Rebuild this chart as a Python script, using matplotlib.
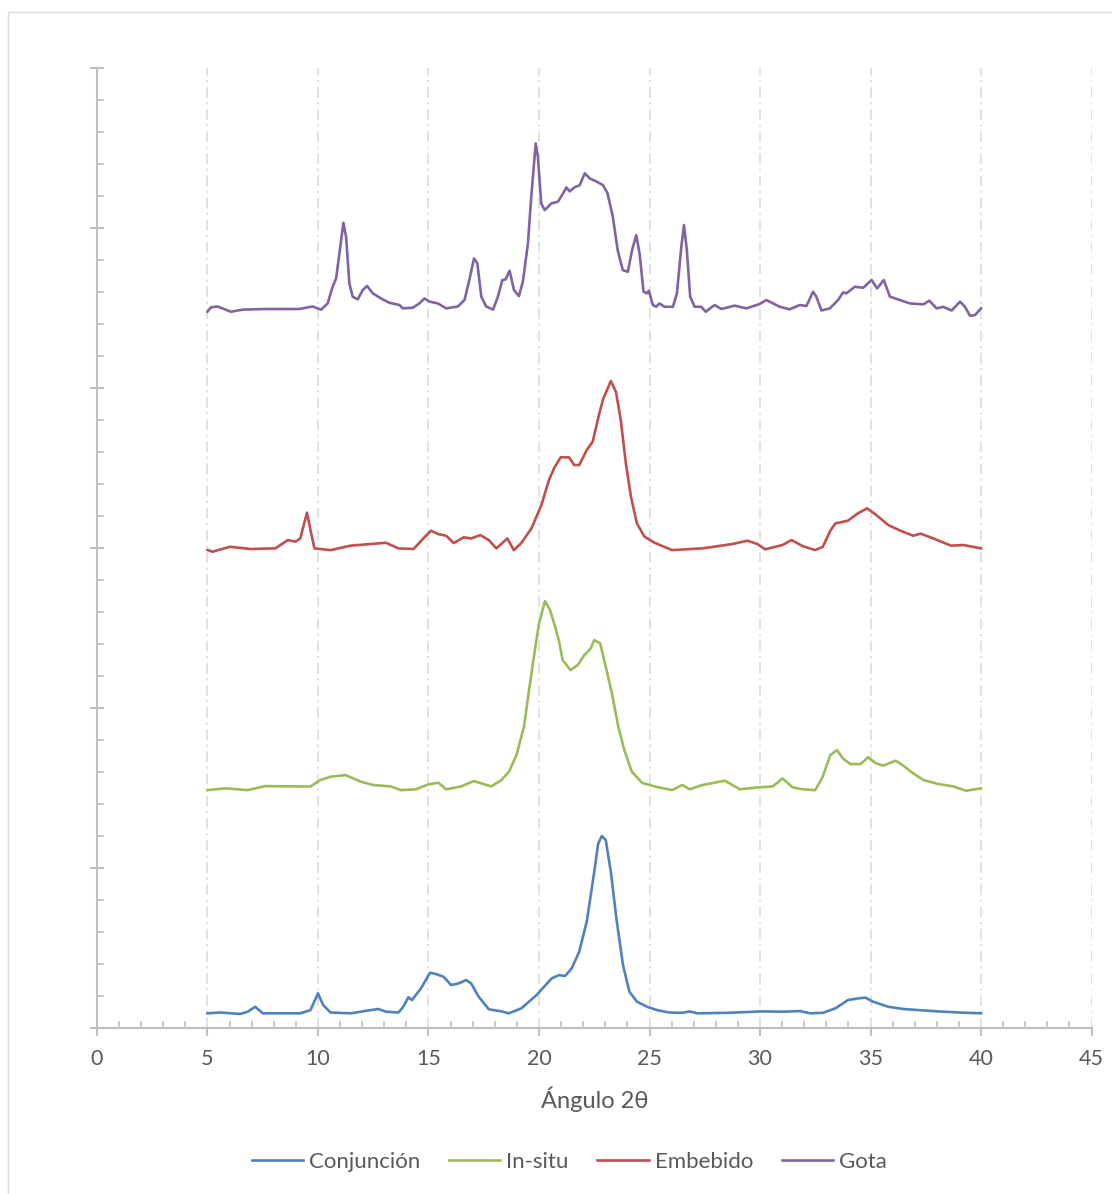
"""
XRD patterns for four preparation methods, stacked with vertical offsets
Output: out.png
"""

import matplotlib
matplotlib.use("Agg")
import matplotlib.pyplot as plt
from matplotlib.patches import Rectangle
from matplotlib.ticker import MultipleLocator, NullFormatter

plt.rcParams["font.family"] = ["Lato", "DejaVu Sans"]

# ── Data (2θ, intensity with offset already applied) ─────────────
conj_x = [5.0, 5.57, 6.48, 6.82, 7.16, 7.5, 9.2, 9.66, 10.0, 10.23, 10.57, 11.48,
          12.39, 12.73, 13.07, 13.64, 13.86, 14.09, 14.25, 14.66, 15.07, 15.34,
          15.68, 16.02, 16.36, 16.7, 16.93, 17.27, 17.73, 18.3, 18.64, 19.2,
          19.89, 20.57, 20.91, 21.18, 21.48, 21.82, 22.16, 22.5, 22.68, 22.84,
          23.02, 23.25, 23.52, 23.8, 24.09, 24.43, 24.89, 25.34, 25.9, 26.48,
          26.82, 27.16, 28.52, 30.11, 31.02, 31.82, 32.27, 32.84, 33.41, 33.98,
          34.43, 34.77, 35.11, 35.8, 36.48, 37.39, 38.3, 39.2, 40.0]
conj_y = [92, 97, 88, 102, 133, 92, 92, 112, 217, 144, 97, 92,
          112, 119, 102, 97, 133, 192, 175, 248, 346, 337,
          321, 269, 279, 300, 279, 196, 117, 104, 92, 123,
          206, 310, 331, 325, 373, 477, 665, 977, 1154, 1200,
          1175, 977, 665, 394, 227, 165, 133, 112, 97, 95,
          104, 92, 95, 104, 102, 106, 92, 95, 123, 175,
          185, 190, 165, 133, 119, 110, 102, 96, 92]

insitu_x = [5.0, 5.8, 6.82, 7.61, 9.2, 9.66, 10.11, 10.57, 11.25, 11.93, 12.5,
            13.3, 13.75, 14.43, 15.0, 15.45, 15.8, 16.48, 17.05, 17.84, 18.3,
            18.64, 18.98, 19.32, 19.55, 19.77, 20.0, 20.27, 20.5, 20.73, 20.91,
            21.07, 21.43, 21.75, 22.05, 22.34, 22.5, 22.77, 23.02, 23.3, 23.59,
            23.86, 24.2, 24.66, 25.23, 26.02, 26.48, 26.82, 27.39, 28.41, 29.09,
            29.89, 30.57, 31.02, 31.48, 31.93, 32.5, 32.84, 33.18, 33.48, 33.75,
            34.09, 34.55, 34.89, 35.23, 35.57, 36.14, 36.48, 36.93, 37.39, 38.07,
            38.75, 39.32, 40.0]
insitu_y = [1487, 1498, 1487, 1512, 1510, 1510, 1550, 1571, 1581, 1540, 1519,
            1510, 1487, 1492, 1523, 1533, 1492, 1510, 1544, 1510, 1550,
            1602, 1706, 1883, 2112, 2321, 2529, 2669, 2612, 2508, 2415,
            2300, 2237, 2269, 2331, 2373, 2425, 2404, 2258, 2092, 1883,
            1737, 1602, 1533, 1510, 1487, 1519, 1492, 1519, 1546, 1492,
            1504, 1510, 1560, 1504, 1492, 1487, 1571, 1706, 1737, 1685,
            1650, 1650, 1692, 1656, 1640, 1671, 1640, 1592, 1550, 1525,
            1510, 1483, 1498]

embeb_x = [5.0, 5.23, 6.02, 6.93, 8.07, 8.64, 8.98, 9.2, 9.5, 9.66, 9.84,
           10.57, 11.48, 13.07, 13.64, 14.32, 14.77, 15.11, 15.45, 15.8, 16.14,
           16.59, 16.93, 17.34, 17.73, 18.07, 18.57, 18.86, 19.2, 19.66, 20.11,
           20.45, 20.68, 20.98, 21.36, 21.59, 21.82, 22.16, 22.43, 22.73, 22.91,
           23.11, 23.25, 23.48, 23.7, 23.93, 24.16, 24.43, 24.77, 25.23, 26.02,
           27.39, 28.75, 29.43, 29.89, 30.23, 31.02, 31.43, 31.93, 32.5, 32.84,
           33.18, 33.41, 33.98, 34.43, 34.84, 35.23, 35.8, 36.36, 36.93, 37.27,
           37.84, 38.64, 39.2, 40.0]
embeb_y = [2988, 2977, 3008, 2994, 2998, 3050, 3040, 3060, 3221, 3112, 2998,
           2987, 3015, 3033, 2998, 2994, 3060, 3108, 3087, 3077, 3031,
           3067, 3060, 3081, 3050, 2998, 3060, 2987, 3031, 3123, 3269,
           3425, 3498, 3567, 3567, 3519, 3519, 3612, 3665, 3842, 3935,
           3998, 4044, 3977, 3800, 3529, 3321, 3154, 3071, 3033, 2987,
           2998, 3025, 3046, 3025, 2992, 3019, 3050, 3012, 2987, 3008,
           3108, 3154, 3171, 3217, 3248, 3210, 3144, 3108, 3077, 3090,
           3060, 3015, 3019, 2998]

gota_x = [5.0, 5.15, 5.45, 6.06, 6.59, 7.64, 9.15, 9.76, 10.14, 10.44, 10.66,
          10.82, 10.97, 11.15, 11.27, 11.42, 11.57, 11.8, 12.02, 12.22, 12.48,
          12.85, 13.23, 13.69, 13.84, 14.29, 14.59, 14.82, 15.05, 15.42, 15.8,
          16.33, 16.63, 16.83, 17.06, 17.21, 17.39, 17.61, 17.92, 18.14, 18.34,
          18.49, 18.67, 18.87, 19.09, 19.27, 19.5, 19.65, 19.85, 19.95, 20.1,
          20.26, 20.56, 20.86, 21.09, 21.24, 21.39, 21.62, 21.84, 22.07, 22.3,
          22.58, 22.89, 23.1, 23.34, 23.56, 23.79, 24.02, 24.21, 24.4, 24.55,
          24.73, 24.88, 24.97, 25.15, 25.3, 25.45, 25.68, 26.06, 26.24, 26.44,
          26.56, 26.69, 26.84, 27.04, 27.34, 27.54, 27.95, 28.25, 28.85, 29.38,
          29.98, 30.29, 30.89, 31.34, 31.8, 32.1, 32.4, 32.55, 32.78, 33.16,
          33.53, 33.76, 33.91, 34.29, 34.67, 35.05, 35.3, 35.6, 35.88, 36.25,
          36.78, 37.39, 37.66, 37.99, 38.29, 38.67, 39.05, 39.27, 39.5, 39.73,
          40.0]
gota_y = [4477, 4504, 4510, 4477, 4490, 4494, 4494, 4510, 4490, 4529, 4633,
          4685, 4842, 5033, 4946, 4654, 4571, 4554, 4612, 4638, 4592,
          4560, 4533, 4519, 4498, 4502, 4529, 4560, 4540, 4529, 4498,
          4510, 4550, 4665, 4810, 4779, 4571, 4510, 4490, 4571, 4675,
          4679, 4733, 4612, 4575, 4665, 4904, 5196, 5529, 5446, 5154,
          5112, 5154, 5165, 5217, 5254, 5229, 5256, 5267, 5342, 5310,
          5292, 5269, 5217, 5071, 4862, 4737, 4727, 4862, 4956, 4842,
          4602, 4592, 4608, 4519, 4508, 4529, 4508, 4508, 4592, 4883,
          5019, 4862, 4571, 4508, 4508, 4477, 4519, 4494, 4515, 4498,
          4525, 4550, 4508, 4492, 4519, 4513, 4602, 4571, 4485, 4498,
          4550, 4598, 4592, 4633, 4627, 4675, 4623, 4675, 4571, 4554,
          4529, 4523, 4546, 4498, 4508, 4485, 4540, 4508, 4452, 4456,
          4498]

series = [
    ("Conjunción", conj_x, conj_y, "#4F81BD"),
    ("In-situ", insitu_x, insitu_y, "#9BBB59"),
    ("Embebido", embeb_x, embeb_y, "#C0504D"),
    ("Gota", gota_x, gota_y, "#8064A2"),
]

# ── Plot ──────────────────────────────────────────────────────
fig = plt.figure(figsize=(11.12, 11.94), dpi=100)
ax = fig.add_axes([0.0872, 0.139, 0.8944, 0.804])

for name, xs, ys, col in series:
    ax.plot(xs, ys, color=col, linewidth=1.9, label=name, zorder=3)

ax.set_xlim(0, 45)
ax.set_ylim(0, 6000)
ax.xaxis.set_major_locator(MultipleLocator(5))
ax.xaxis.set_minor_locator(MultipleLocator(1))
ax.yaxis.set_major_locator(MultipleLocator(1000))
ax.yaxis.set_minor_locator(MultipleLocator(200))
ax.yaxis.set_major_formatter(NullFormatter())

ax.grid(axis="x", which="major", color="#D9D9D9", linewidth=1.1,
        linestyle=(0, (7, 3, 1.5, 3)), zorder=0)

for s in ["top", "right"]:
    ax.spines[s].set_visible(False)
for s in ["left", "bottom"]:
    ax.spines[s].set_color("#BFBFBF")
    ax.spines[s].set_linewidth(1.5)

ax.tick_params(axis="x", which="major", direction="out", length=6, width=1.5,
               color="#BFBFBF", labelcolor="#595959", labelsize=15.5, pad=9)
ax.tick_params(axis="x", which="minor", direction="in", length=5, width=1.2,
               color="#BFBFBF")
ax.tick_params(axis="y", which="major", direction="inout", length=10, width=1.5,
               color="#BFBFBF")
ax.tick_params(axis="y", which="minor", direction="in", length=5, width=1.2,
               color="#BFBFBF")

ax.set_xlabel("Ángulo 2θ", fontsize=17, color="#595959", labelpad=13)

fig.legend(loc="center", bbox_to_anchor=(0.512, 0.027), ncol=4, frameon=False,
           fontsize=16, handlelength=2.3, handletextpad=0.27, columnspacing=1.3,
           labelcolor="#595959")

# light chart-area border
fig.patches.append(Rectangle((8 / 1112, -0.01), 1.02, (1194 - 12) / 1194 + 0.01,
                             transform=fig.transFigure, fill=False,
                             edgecolor="#D9D9D9", linewidth=1))

plt.savefig("out.png", dpi=100)
plt.close()
